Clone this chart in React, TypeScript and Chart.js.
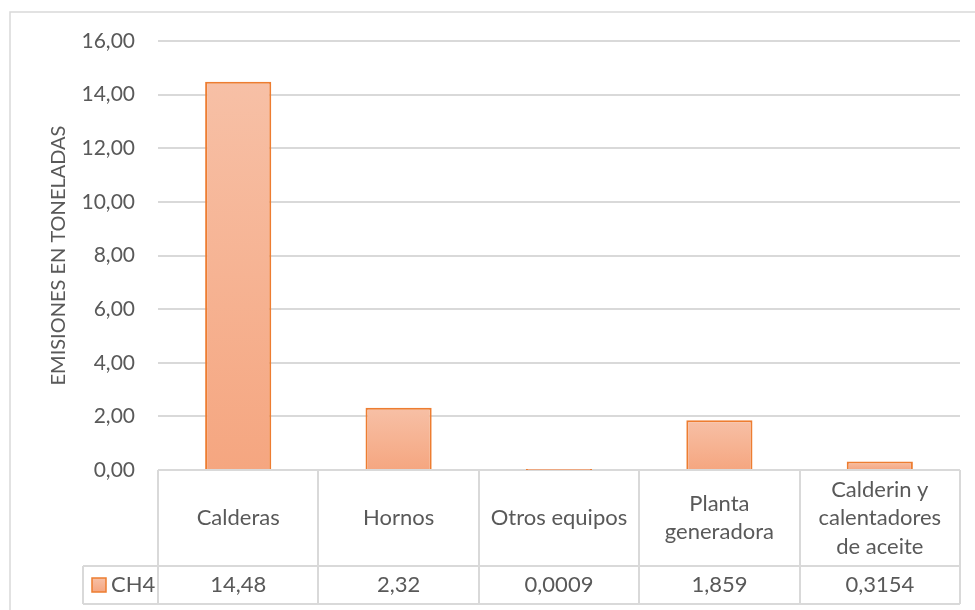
import React, { useEffect, useRef } from "react";
import { Chart, registerables } from "chart.js";

Chart.register(...registerables);

const categories: (string | string[])[] = [
  "Calderas",
  "Hornos",
  "Otros equipos",
  ["Planta", "generadora"],
  ["Calderin y", "calentadores", "de aceite"],
];
const seriesName = "CH4";
const ch4Values = [14.48, 2.32, 0.0009, 1.859, 0.3154];
const ch4Labels = ["14,48", "2,32", "0,0009", "1,859", "0,3154"];
const yTitle = "EMISIONES EN TONELADAS";

const FONT = "Lato";
const TEXT = "#595959";
const LINE = "#d9d9d9";
const BORDER = "#ed7d31";
const FILL_TOP = "#f7c0a6";
const FILL_BOTTOM = "#f5a680";

const tablePlugin = {
  id: "dataTable",
  afterDraw(chart: any) {
    const { ctx, chartArea, scales } = chart;
    const xs = scales.x;
    const n = categories.length;
    const colW = (chartArea.right - chartArea.left) / n;
    const top = chartArea.bottom;
    const headerBottom = top + 96;
    const bottom = headerBottom + 38;
    const keyLeft = 83;
    ctx.save();
    ctx.strokeStyle = LINE;
    ctx.lineWidth = 1.5;
    ctx.strokeRect(10, 12, 990, 620);

    ctx.lineWidth = 2;
    const line = (x1: number, y1: number, x2: number, y2: number) => {
      ctx.beginPath();
      ctx.moveTo(x1, y1);
      ctx.lineTo(x2, y2);
      ctx.stroke();
    };
    for (let i = 0; i <= n; i++) {
      const px = Math.round(chartArea.left + i * colW);
      line(px, top, px, bottom);
    }
    line(keyLeft, headerBottom, chartArea.right, headerBottom);
    line(keyLeft, bottom, chartArea.right, bottom);
    line(keyLeft, headerBottom, keyLeft, bottom);

    ctx.fillStyle = TEXT;
    ctx.font = `22px ${FONT}`;
    ctx.textAlign = "center";
    ctx.textBaseline = "middle";
    const headerMid = (top + headerBottom) / 2;
    const rowMid = (headerBottom + bottom) / 2;
    const lh = 28.5;
    categories.forEach((c, i) => {
      const cx = xs.getPixelForValue(i);
      const lines = Array.isArray(c) ? c : [c];
      const start = headerMid - ((lines.length - 1) * lh) / 2;
      lines.forEach((t, j) => ctx.fillText(t, cx, start + j * lh));
      ctx.fillText(ch4Labels[i], cx, rowMid);
    });

    const kx = 92, ky = rowMid - 7, ks = 14;
    const g = ctx.createLinearGradient(0, ky, 0, ky + ks);
    g.addColorStop(0, FILL_TOP);
    g.addColorStop(1, FILL_BOTTOM);
    ctx.fillStyle = g;
    ctx.fillRect(kx, ky, ks, ks);
    ctx.strokeStyle = BORDER;
    ctx.lineWidth = 1.5;
    ctx.strokeRect(kx, ky, ks, ks);
    ctx.fillStyle = TEXT;
    ctx.textAlign = "left";
    ctx.fillText(seriesName, 111, rowMid);
    ctx.restore();
  },
};

export default function App() {
  const ref = useRef<HTMLCanvasElement>(null);
  useEffect(() => {
    const canvas = ref.current!;
    const chart = new Chart(canvas, {
      type: "bar",
      data: {
        labels: categories as any,
        datasets: [
          {
            label: seriesName,
            data: ch4Values,
            backgroundColor: (c: any) => {
              const chart = c.chart;
              const ys = chart.scales?.y;
              if (!ys || c.type !== "data") return FILL_BOTTOM;
              const t = ys.getPixelForValue(c.raw);
              const b = ys.getPixelForValue(0);
              if (!isFinite(t) || !isFinite(b) || b - t < 1) return FILL_BOTTOM;
              const g = chart.ctx.createLinearGradient(0, t, 0, b);
              g.addColorStop(0, FILL_TOP);
              g.addColorStop(1, FILL_BOTTOM);
              return g;
            },
            borderColor: BORDER,
            borderWidth: 2,
            barPercentage: 0.4125,
            categoryPercentage: 1,
          },
        ],
      },
      options: {
        responsive: false,
        animation: false,
        devicePixelRatio: 1,
        layout: { padding: { left: 0, top: 41, right: 15, bottom: 0 } },
        plugins: { legend: { display: false }, tooltip: { enabled: false } },
        scales: {
          x: {
            grid: { display: false },
            border: { display: false },
            ticks: { display: false },
            afterFit: (s: any) => {
              s.height = 140;
            },
          },
          y: {
            min: 0,
            max: 16,
            ticks: {
              stepSize: 2,
              padding: 23,
              color: TEXT,
              font: { family: FONT, size: 21 },
              callback: (v: any) => Number(v).toFixed(2).replace(".", ","),
            },
            grid: { color: LINE, lineWidth: 2, drawTicks: false },
            border: { display: false },
            title: {
              display: true,
              text: yTitle,
              color: TEXT,
              font: { family: FONT, size: 20 },
              padding: { top: 47, bottom: 0 },
            },
            afterFit: (s: any) => {
              s.width = 158;
            },
          },
        },
      },
      plugins: [tablePlugin],
    });
    return () => chart.destroy();
  }, []);
  return (
    <div style={{ position: "fixed", left: 0, top: 0, width: 975, height: 610, background: "#fff" }}>
      <canvas ref={ref} width={975} height={610} />
    </div>
  );
}
